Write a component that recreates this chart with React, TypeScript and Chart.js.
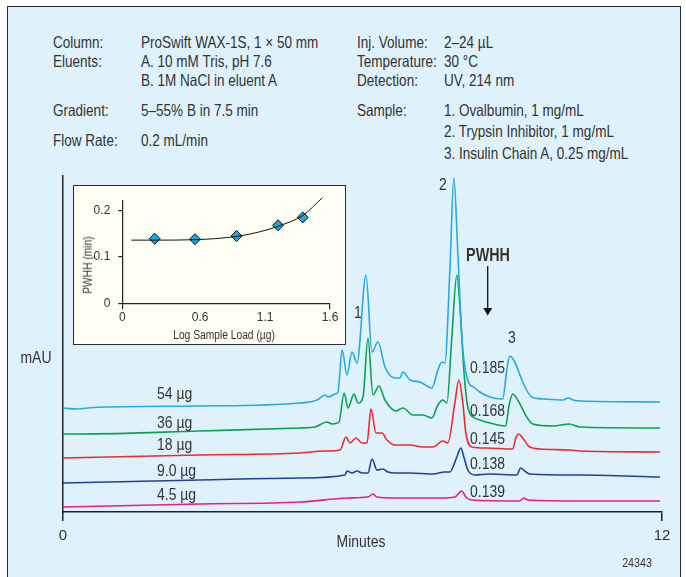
import React, { useEffect, useRef } from "react";
import { Chart, registerables } from "chart.js";

Chart.register(...registerables);

const FONT = '"Liberation Sans", Arial, sans-serif';
const CANVAS_FONT = "Liberation Sans";
const NARROW = 0.82;
const INK = "#333333";

// ---- Main chromatogram (time in minutes, absorbance in mAU, traces offset) ----
const t54 = [0, 0.28, 0.6, 2.74, 4.75, 5.09, 5.25, 5.31, 5.45, 5.51, 5.59, 5.69, 5.79, 5.89, 6.07, 6.19, 6.31, 6.45, 6.65, 6.75, 6.81, 6.95, 7.15, 7.39, 7.51, 7.59, 7.65, 7.75, 7.83, 7.91, 7.99, 8.09, 8.25, 8.35, 8.55, 8.81, 8.89, 8.95, 9.05, 9.21, 9.39, 9.62, 10.02, 10.12, 10.22, 10.38, 11.96];
const a54 = [104, 103, 104.5, 106, 109, 112, 117, 115, 118, 120, 162, 137, 160, 149, 237, 160, 170, 145, 134, 134, 140, 132, 130, 124, 142, 150, 149, 242, 334, 259, 175, 135, 124, 120, 115, 113, 142, 156, 150, 130, 115, 113, 112, 114, 112, 111, 110];

const t36 = [0, 0.34, 2.74, 4.75, 5.05, 5.29, 5.39, 5.53, 5.63, 5.71, 5.83, 5.91, 6.01, 6.11, 6.21, 6.33, 6.45, 6.67, 6.81, 7.01, 7.21, 7.39, 7.51, 7.61, 7.69, 7.79, 7.89, 7.97, 8.03, 8.11, 8.25, 8.35, 8.55, 8.87, 8.93, 9.01, 9.11, 9.29, 9.41, 9.82, 10.14, 10.36, 11.96];
const a36 = [78, 78, 81, 84, 85, 90, 88, 90, 119, 104, 118, 109, 115, 174, 117, 126, 112, 101, 104, 97, 97, 94, 107, 112, 109, 175, 237, 192, 142, 105, 94, 92, 89, 86, 105, 118, 112, 95, 88, 86, 88, 85, 84];

const t18 = [0, 2.74, 4.75, 5.25, 5.55, 5.67, 5.75, 5.87, 5.99, 6.09, 6.17, 6.27, 6.39, 6.49, 6.65, 6.95, 7.21, 7.41, 7.61, 7.71, 7.85, 7.93, 8.01, 8.07, 8.19, 8.49, 9.01, 9.07, 9.13, 9.21, 9.35, 9.56, 10.16, 10.36, 11.96];
const a18 = [54, 57, 59, 61, 62, 75, 69, 74, 69, 69, 103, 79, 79, 72, 67, 67, 65, 65, 71, 69, 109, 132, 109, 79, 65, 64, 63, 74, 78, 74, 65, 63, 62, 61, 60];

const t9 = [0, 2.74, 4.75, 5.65, 5.69, 5.79, 5.89, 5.99, 6.11, 6.19, 6.29, 6.41, 6.51, 6.65, 6.95, 7.41, 7.65, 7.75, 7.89, 7.97, 8.03, 8.11, 8.25, 8.55, 9.09, 9.17, 9.25, 9.35, 10.36, 11.96];
const a9 = [29, 32, 34, 37, 41, 39, 41, 39, 39, 53, 42, 43, 40, 39, 39, 38, 40, 40, 55, 64, 55, 42, 37, 38, 37, 44, 41, 38, 37, 35];

const t45 = [0, 2.74, 4.75, 5.71, 6.11, 6.21, 6.29, 6.65, 7.55, 7.85, 7.99, 8.07, 8.19, 9.15, 9.23, 9.31, 10.38, 11.96];
const a45 = [5, 8, 10, 14, 15, 18, 15, 14, 14, 15, 21, 15, 12, 11, 14, 12, 11, 11];

const loadLabels = ["54 µg", "36 µg", "18 µg", "9.0 µg", "4.5 µg"];
const pwhhLabels = ["0.185", "0.168", "0.145", "0.138", "0.139"];
const traceColors = ["#27a9e1", "#0aa24e", "#ee2a2e", "#22409a", "#ec1a8c"];
const minuteTicks = [0, 12];
const minuteTickLabels = ["0", "12"];

// ---- Inset: PWHH vs log sample load ----
const logLoad = [0.25, 0.56, 0.88, 1.2, 1.39];
const pwhh = [0.139, 0.138, 0.145, 0.168, 0.185];
const fitX = [0.07, 0.25, 0.56, 0.88, 1.06, 1.2, 1.39, 1.54];
const fitY = [0.136, 0.136, 0.137, 0.144, 0.154, 0.166, 0.189, 0.227];
const insetXTicks = [0, 0.6, 1.1, 1.6];
const insetXTickLabels = ["0", "0.6", "1.1", "1.6"];
const insetYTicks = [0, 0.1, 0.2];
const insetYTickLabels = ["0", "0.1", "0.2"];

const headerLeft = [
  ["Column:", "ProSwift WAX-1S, 1 × 50 mm", 42],
  ["Eluents:", "A. 10 mM Tris, pH 7.6", 61],
  ["", "B. 1M NaCl in eluent A", 80],
  ["Gradient:", "5–55% B in 7.5 min", 110],
  ["Flow Rate:", "0.2 mL/min", 140],
];
const headerRight = [
  ["Inj. Volume:", "2–24 µL", 42],
  ["Temperature:", "30 °C", 61],
  ["Detection:", "UV, 214 nm", 80],
  ["Sample:", "1. Ovalbumin, 1 mg/mL", 110],
  ["", "2. Trypsin Inhibitor, 1 mg/mL", 131],
  ["", "3. Insulin Chain A, 0.25 mg/mL", 153],
];

function T(props: { x: number; y: number; size?: number; bold?: boolean; align?: "left" | "center" | "right"; rotate?: boolean; children: React.ReactNode }) {
  const { x, y, size = 16.5, bold, align = "left", rotate } = props;
  const tx = align === "left" ? "0" : align === "center" ? "-50%" : "-100%";
  const origin = align === "left" ? "left center" : align === "center" ? "center center" : "right center";
  return (
    <div
      style={{
        position: "absolute",
        left: x,
        top: y,
        transformOrigin: rotate ? "center center" : origin,
        transform: rotate
          ? `translate(-50%, -50%) rotate(-90deg) scaleX(${NARROW})`
          : `translate(${tx}, -50%) scaleX(${NARROW})`,
        fontFamily: FONT,
        fontSize: size,
        fontWeight: bold ? 700 : 400,
        lineHeight: 1,
        whiteSpace: "nowrap",
        color: INK,
      }}
    >
      {props.children}
    </div>
  );
}

function MainChart() {
  const ref = useRef<HTMLCanvasElement>(null);
  useEffect(() => {
    const series = [
      [t54, a54],
      [t36, a36],
      [t18, a18],
      [t9, a9],
      [t45, a45],
    ];
    const chart = new Chart(ref.current as HTMLCanvasElement, {
      type: "line",
      data: {
        datasets: series.map((s, k) => ({
          label: loadLabels[k],
          data: s[0].map((x, i) => ({ x, y: s[1][i] })),
          borderColor: traceColors[k],
          borderWidth: 1.6,
          pointRadius: 0,
          cubicInterpolationMode: "monotone" as const,
          fill: false,
        })),
      },
      options: {
        animation: false,
        responsive: false,
        devicePixelRatio: 1,
        layout: { padding: { left: 63, right: 24, top: 176, bottom: 27 } },
        plugins: { legend: { display: false }, tooltip: { enabled: false } },
        scales: {
          x: {
            type: "linear",
            min: 0,
            max: 12,
            afterFit: (s: any) => { s.height = 38; },
            afterBuildTicks: (s: any) => { s.ticks = minuteTicks.map((v) => ({ value: v })); },
            grid: { drawOnChartArea: false, drawTicks: true, tickLength: 9, color: "#222", lineWidth: 1.5 },
            border: { display: true, color: "#222", width: 1.5 },
            ticks: {
              color: INK,
              font: { family: CANVAS_FONT, size: 15 },
              padding: 6,
              maxRotation: 0,
              autoSkip: false,
              callback: (_v: any, i: number) => minuteTickLabels[i],
            },
          },
          y: {
            type: "linear",
            min: 0,
            max: 336,
            afterFit: (s: any) => { s.width = 0; },
            grid: { display: false },
            ticks: { display: false },
            border: { display: true, color: "#222", width: 1.5 },
          },
        },
      } as any,
    });
    return () => chart.destroy();
  }, []);
  return <canvas ref={ref} width={686} height={577} style={{ position: "absolute", left: 0, top: 0 }} />;
}

function InsetChart() {
  const ref = useRef<HTMLCanvasElement>(null);
  useEffect(() => {
    const chart = new Chart(ref.current as HTMLCanvasElement, {
      type: "line",
      data: {
        datasets: [
          {
            label: "fit",
            data: fitX.map((x, i) => ({ x, y: fitY[i] })),
            borderColor: "#111",
            borderWidth: 1,
            pointRadius: 0,
            cubicInterpolationMode: "monotone" as const,
            clip: false as any,
          },
          {
            label: "PWHH",
            data: logLoad.map((x, i) => ({ x, y: pwhh[i] })),
            showLine: false,
            pointStyle: "rectRot",
            pointRadius: 5.5,
            backgroundColor: "#1ea4de",
            borderColor: "#111",
            borderWidth: 1,
          },
        ],
      },
      options: {
        animation: false,
        responsive: false,
        devicePixelRatio: 1,
        layout: { padding: { left: 4, right: 16, top: 13.3, bottom: 20 } },
        plugins: { legend: { display: false }, tooltip: { enabled: false } },
        scales: {
          x: {
            type: "linear",
            min: 0,
            max: 1.6,
            afterFit: (s: any) => { s.height = 21.7; },
            afterBuildTicks: (s: any) => { s.ticks = insetXTicks.map((v) => ({ value: v })); },
            grid: {
              drawOnChartArea: false,
              tickLength: 6,
              lineWidth: 1.2,
              color: (c: any) => (c.tick && (c.tick.value === 0 || c.tick.value === 1.6) ? "#222" : "rgba(0,0,0,0)"),
            },
            border: { display: true, color: "#222", width: 1.2 },
            ticks: {
              color: INK,
              font: { family: CANVAS_FONT, size: 12 },
              padding: 1,
              maxRotation: 0,
              autoSkip: false,
              callback: (_v: any, i: number) => insetXTickLabels[i],
            },
          },
          y: {
            type: "linear",
            min: 0,
            max: 0.222,
            afterFit: (s: any) => { s.width = 45.3; },
            afterBuildTicks: (s: any) => { s.ticks = insetYTicks.map((v) => ({ value: v })); },
            grid: { drawOnChartArea: false, tickLength: 4, lineWidth: 1.2, color: "#222" },
            border: { display: true, color: "#222", width: 1.2 },
            ticks: {
              color: INK,
              font: { family: CANVAS_FONT, size: 12 },
              padding: 8,
              autoSkip: false,
              callback: (_v: any, i: number) => insetYTickLabels[i],
            },
          },
        },
      } as any,
    });
    return () => chart.destroy();
  }, []);
  return <canvas ref={ref} width={273} height={160} style={{ position: "absolute", left: 73, top: 185 }} />;
}

export default function App() {
  const loadY = [392.5, 421.5, 444, 469.5, 493.5];
  const pwhhY = [367, 409.5, 437.5, 462.5, 490.5];
  return (
    <div style={{ position: "absolute", left: 0, top: 0, width: 686, height: 577, overflow: "hidden", background: "#fff" }}>
      <div
        style={{
          position: "absolute",
          left: 7,
          top: 6,
          width: 674,
          height: 640,
          boxSizing: "border-box",
          border: "1.5px solid #2b2b2b",
          background: "#dff2fb",
        }}
      />
      {headerLeft.map((r, i) => (
        <React.Fragment key={"hl" + i}>
          {r[0] ? <T x={53} y={r[2] as number}>{r[0]}</T> : null}
          <T x={141} y={r[2] as number}>{r[1]}</T>
        </React.Fragment>
      ))}
      {headerRight.map((r, i) => (
        <React.Fragment key={"hr" + i}>
          {r[0] ? <T x={357} y={r[2] as number}>{r[0]}</T> : null}
          <T x={444} y={r[2] as number}>{r[1]}</T>
        </React.Fragment>
      ))}
      <MainChart />
      <div
        style={{
          position: "absolute",
          left: 73,
          top: 185,
          width: 273,
          height: 160,
          boxSizing: "border-box",
          border: "1.5px solid #2b2b2b",
          background: "#fffef5",
        }}
      />
      <InsetChart />
      <T x={88} y={265} size={12.5} rotate align="center">PWHH (min)</T>
      <T x={224} y={334.5} size={12.5} align="center">Log Sample Load (µg)</T>
      <T x={36} y={357} size={17} align="center">mAU</T>
      {loadLabels.map((l, i) => (
        <T key={"ld" + i} x={157} y={loadY[i]} size={17}>{l}</T>
      ))}
      {pwhhLabels.map((l, i) => (
        <T key={"pw" + i} x={469.5} y={pwhhY[i]} size={17}>{l}</T>
      ))}
      <T x={354} y={312} size={17}>1</T>
      <T x={443} y={184} size={17} align="center">2</T>
      <T x={512} y={337} size={17} align="center">3</T>
      <T x={487.5} y={255.5} size={17.5} bold align="center">PWHH</T>
      <svg style={{ position: "absolute", left: 480, top: 262, overflow: "visible" }} width={16} height={60}>
        <line x1={7.7} y1={4} x2={7.7} y2={47} stroke="#111" strokeWidth={1.3} />
        <polygon points="3.2,46 12.2,46 7.7,53.5" fill="#111" />
      </svg>
      <T x={361} y={541} size={17} align="center">Minutes</T>
      <T x={637} y={562} size={13} align="center">24343</T>
    </div>
  );
}
